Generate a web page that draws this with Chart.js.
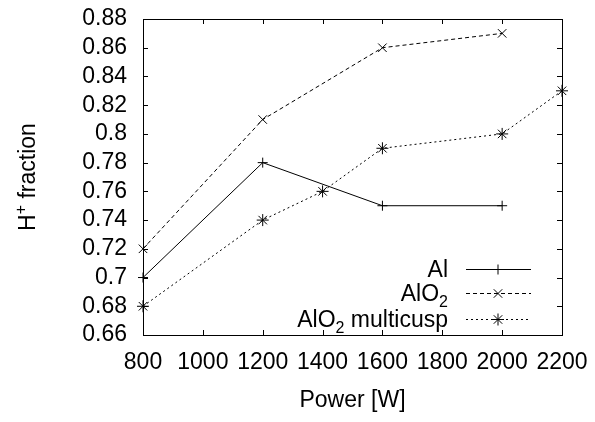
<!DOCTYPE html>
<html>
<head>
<meta charset="utf-8">
<script src="https://cdn.jsdelivr.net/npm/chart.js@4.4.0/dist/chart.umd.min.js"></script>
<style>
html, body { margin: 0; padding: 0; background: #fff; }
#wrap { width: 595px; height: 422px; }
</style>
</head>
<body>
<div id="wrap"><canvas id="chart"></canvas></div>
<script>
const powerAl = [800, 1200, 1600, 2000];
const fractionAl = [0.70, 0.78, 0.75, 0.75];
const powerAlO2 = [800, 1200, 1600, 2000];
const fractionAlO2 = [0.72, 0.81, 0.86, 0.87];
const powerMulticusp = [800, 1200, 1400, 1600, 2000, 2200];
const fractionMulticusp = [0.68, 0.74, 0.76, 0.79, 0.80, 0.83];

const xTicks = [800, 1000, 1200, 1400, 1600, 1800, 2000, 2200];
const yTicks = [0.66, 0.68, 0.70, 0.72, 0.74, 0.76, 0.78, 0.80, 0.82, 0.84, 0.86, 0.88];

const FONT = '"Liberation Sans", Arial, sans-serif';
const FONT_SIZE = 23;

function toPoints(xs, ys) {
    return xs.map((x, i) => ({ x: x, y: ys[i] }));
}

const series = [
    { label: 'Al', sub: '', xs: powerAl, ys: fractionAl, dash: [], style: 'cross', radius: 5 },
    { label: 'AlO', sub: '2', xs: powerAlO2, ys: fractionAlO2, dash: [4, 3], style: 'crossRot', radius: 6 },
    { label: 'AlO', sub: '2', rest: ' multicusp', xs: powerMulticusp, ys: fractionMulticusp, dash: [2, 3], style: 'star', radius: 6 }
];

// frame with inward ticks on all four sides
const framePlugin = {
    id: 'frame',
    afterDatasetsDraw(chart) {
        const { ctx, chartArea: a, scales } = chart;
        const len = 5;
        ctx.save();
        ctx.strokeStyle = '#000';
        ctx.lineWidth = 1;
        ctx.beginPath();
        scales.x.ticks.forEach(t => {
            const px = Math.round(scales.x.getPixelForValue(t.value)) + 0.5;
            ctx.moveTo(px, a.bottom); ctx.lineTo(px, a.bottom - len);
            ctx.moveTo(px, a.top); ctx.lineTo(px, a.top + len);
        });
        scales.y.ticks.forEach(t => {
            const py = Math.round(scales.y.getPixelForValue(t.value)) + 0.5;
            ctx.moveTo(a.left, py); ctx.lineTo(a.left + len, py);
            ctx.moveTo(a.right, py); ctx.lineTo(a.right - len, py);
        });
        ctx.stroke();
        ctx.strokeRect(Math.round(a.left) + 0.5, Math.round(a.top) + 0.5,
            Math.round(a.right - a.left), Math.round(a.bottom - a.top));
        ctx.restore();
    }
};

// y title with superscript and legend with subscripts
const textPlugin = {
    id: 'texts',
    afterDraw(chart) {
        const { ctx, chartArea: a } = chart;
        ctx.save();
        ctx.fillStyle = '#000';
        ctx.textBaseline = 'alphabetic';

        // y axis title
        const big = FONT_SIZE + 'px ' + FONT;
        const small = Math.round(FONT_SIZE * 0.7) + 'px ' + FONT;
        ctx.font = big;
        const wH = ctx.measureText('H').width;
        const wRest = ctx.measureText(' fraction').width;
        ctx.font = small;
        const wPlus = ctx.measureText('+').width;
        const total = wH + wPlus + wRest;
        ctx.translate(35, (a.top + a.bottom) / 2);
        ctx.rotate(-Math.PI / 2);
        let x = -total / 2;
        ctx.font = big;
        ctx.fillText('H', x, 0); x += wH;
        ctx.font = small;
        ctx.fillText('+', x, -9); x += wPlus;
        ctx.font = big;
        ctx.fillText(' fraction', x, 0);
        ctx.setTransform(1, 0, 0, 1, 0, 0);

        // legend
        const textRight = 448, lineL = 466, lineR = 531, mark = 498;
        const rowY = [269, 293, 319];
        series.forEach((s, i) => {
            const y = rowY[i];
            ctx.font = big;
            const w1 = ctx.measureText(s.label).width;
            const w3 = s.rest ? ctx.measureText(s.rest).width : 0;
            ctx.font = small;
            const w2 = s.sub ? ctx.measureText(s.sub).width : 0;
            let tx = textRight - (w1 + w2 + w3);
            const base = y + 8;
            ctx.font = big;
            ctx.fillText(s.label, tx, base); tx += w1;
            if (s.sub) {
                ctx.font = small;
                ctx.fillText(s.sub, tx, base + 6); tx += w2;
            }
            if (s.rest) {
                ctx.font = big;
                ctx.fillText(s.rest, tx, base);
            }
            ctx.strokeStyle = '#000';
            ctx.lineWidth = 1;
            ctx.setLineDash(s.dash);
            ctx.beginPath();
            ctx.moveTo(lineL, y + 0.5);
            ctx.lineTo(lineR, y + 0.5);
            ctx.stroke();
            ctx.setLineDash([]);
            Chart.helpers.drawPoint(ctx, {
                pointStyle: s.style, radius: s.radius, rotation: 0, borderWidth: 1
            }, mark, y + 0.5);
        });
        ctx.restore();
    }
};

const ctx = document.getElementById('chart').getContext('2d');
new Chart(ctx, {
    type: 'line',
    data: {
        datasets: series.map(s => ({
            label: s.label + s.sub + (s.rest || ''),
            data: toPoints(s.xs, s.ys),
            borderColor: '#000',
            backgroundColor: '#000',
            borderWidth: 1,
            borderDash: s.dash,
            pointStyle: s.style,
            pointRadius: s.radius,
            pointBorderWidth: 1,
            pointBorderColor: '#000',
            tension: 0,
            clip: false
        }))
    },
    options: {
        responsive: true,
        maintainAspectRatio: false,
        animation: false,
        events: [],
        layout: { padding: { top: 19, right: 33, left: 0, bottom: 0 } },
        plugins: {
            legend: { display: false },
            tooltip: { enabled: false }
        },
        scales: {
            x: {
                type: 'linear',
                min: 800,
                max: 2200,
                afterBuildTicks: scale => { scale.ticks = xTicks.map(v => ({ value: v })); },
                afterFit: scale => {
                    scale.height = 87;
                    scale.paddingLeft = 0;
                    scale.paddingRight = 0;
                },
                grid: { display: false, drawTicks: false },
                border: { display: false },
                ticks: {
                    color: '#000',
                    padding: 14,
                    maxRotation: 0,
                    autoSkip: false,
                    font: { family: FONT, size: FONT_SIZE },
                    callback: v => String(v)
                },
                title: {
                    display: true,
                    text: 'Power [W]',
                    color: '#000',
                    font: { family: FONT, size: FONT_SIZE },
                    padding: { top: 0, bottom: 8 }
                }
            },
            y: {
                type: 'linear',
                min: 0.66,
                max: 0.88,
                afterBuildTicks: scale => { scale.ticks = yTicks.map(v => ({ value: v })); },
                afterFit: scale => {
                    scale.width = 143;
                    scale.paddingTop = 0;
                    scale.paddingBottom = 0;
                },
                grid: { display: false, drawTicks: false },
                border: { display: false },
                ticks: {
                    color: '#000',
                    padding: 16,
                    autoSkip: false,
                    font: { family: FONT, size: FONT_SIZE },
                    callback: v => String(+v.toFixed(2))
                }
            }
        }
    },
    plugins: [framePlugin, textPlugin]
});
</script>
</body>
</html>
